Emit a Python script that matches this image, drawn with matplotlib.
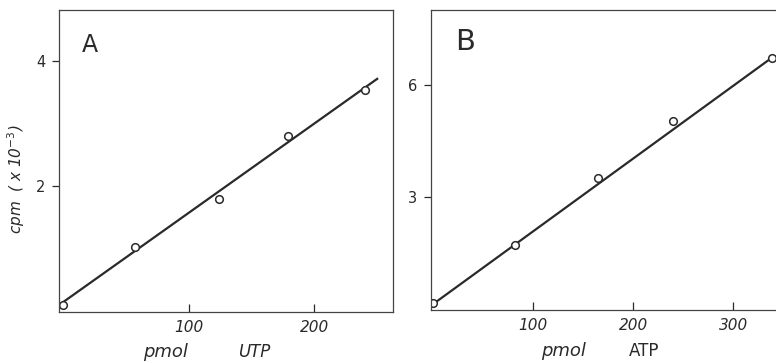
import matplotlib.pyplot as plt

# Panel A: UTP
utp_pmol = [0, 57, 124, 179, 240]
utp_cpm = [0.11, 1.03, 1.79, 2.80, 3.54]
utp_fit_x = [-3, 250]
utp_fit_y = [0.11, 3.71]

# Panel B: ATP
atp_pmol = [0, 82, 165, 240, 339]
atp_cpm = [0.18, 1.73, 3.51, 5.04, 6.71]
atp_fit_x = [0, 336]
atp_fit_y = [0.15, 6.67]

ink = '#2a2a2a'
W, H = 776, 363

fig = plt.figure(figsize=(7.76, 3.63), dpi=100)


def px_axes(left, top, right, bottom):
    return fig.add_axes([left / W, 1 - bottom / H, (right - left) / W, (bottom - top) / H])


def style(ax):
    for s in ax.spines.values():
        s.set_color('#444444')
        s.set_linewidth(0.9)
    ax.tick_params(axis='x', direction='in', length=6, width=0.9, colors=ink,
                   labelsize=11, pad=6)
    ax.tick_params(axis='y', direction='out', length=5, width=0.9, colors=ink,
                   labelsize=10.5, pad=5)
    for lab in ax.get_xticklabels():
        lab.set_fontstyle('italic')


axA = px_axes(59, 10.5, 393, 311.5)
axA.plot(utp_fit_x, utp_fit_y, color=ink, lw=1.6)
axA.plot(utp_pmol, utp_cpm, 'o', ms=5.5, mfc='white', mec=ink, mew=1.1)
axA.set_xlim(-3.5, 262.6)
axA.set_ylim(0, 4.8)
axA.set_xticks([100, 200])
axA.set_yticks([2, 4])
style(axA)
axA.text(0.068, 0.925, 'A', transform=axA.transAxes, fontsize=17, color=ink,
         va='top', ha='left')
axA.set_ylabel('cpm  ( x 10$^{-3}$)', fontsize=11, color=ink, fontstyle='italic')
axA.yaxis.set_label_coords(-0.096, 0.44)
fig.text(165 / W, 1 - 352 / H, 'pmol', fontsize=13, color=ink, fontstyle='italic',
         ha='center', va='center')
fig.text(254 / W, 1 - 352 / H, 'UTP', fontsize=12, color=ink, fontstyle='italic',
         ha='center', va='center')

axB = px_axes(431, 9.5, 790, 310)
axB.plot(atp_fit_x, atp_fit_y, color=ink, lw=1.6)
axB.plot(atp_pmol, atp_cpm, 'o', ms=5.5, mfc='white', mec=ink, mew=1.1)
axB.set_xlim(-1.7, 356.5)
axB.set_ylim(0, 8)
axB.set_xticks([100, 200, 300])
axB.set_yticks([3, 6])
style(axB)
axB.text(0.068, 0.94, 'B', transform=axB.transAxes, fontsize=21, color=ink,
         va='top', ha='left')
fig.text(563 / W, 1 - 351 / H, 'pmol', fontsize=13, color=ink, fontstyle='italic',
         ha='center', va='center')
fig.text(644 / W, 1 - 351 / H, 'ATP', fontsize=12, color=ink,
         ha='center', va='center')

fig.savefig('out.png', dpi=100)
